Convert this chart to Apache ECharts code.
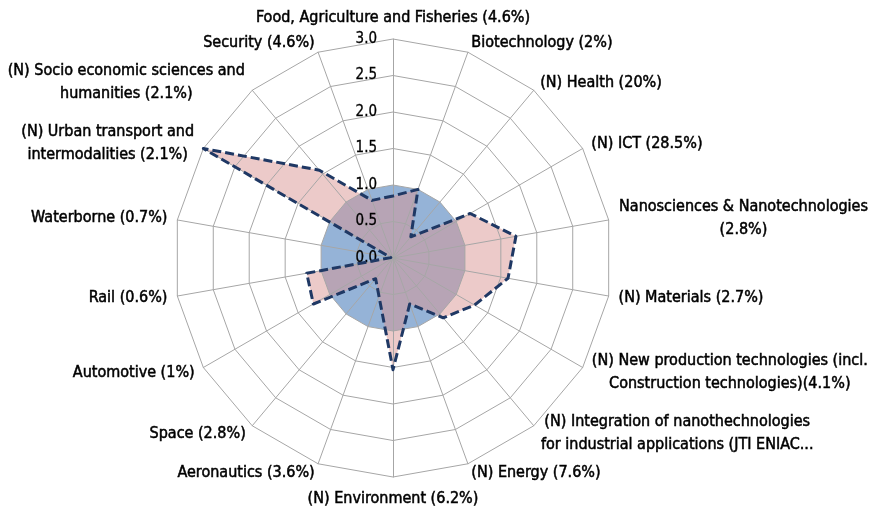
<!DOCTYPE html>
<html>
<head>
<meta charset="utf-8">
<script src="https://cdn.jsdelivr.net/npm/echarts@6/dist/echarts.min.js"></script>
<style>
html,body{margin:0;padding:0;background:#fff;}
#chart{width:873px;height:511px;}
</style>
</head>
<body>
<div id="chart"></div>
<script>
// axis names, clockwise from the top
var categories = [
  'Food, Agriculture and Fisheries (4.6%)',
  'Biotechnology (2%)',
  '(N) Health (20%)',
  '(N) ICT (28.5%)',
  'Nanosciences & Nanotechnologies\n(2.8%)',
  '(N) Materials (2.7%)',
  '(N) New production technologies (incl.\nConstruction technologies)(4.1%)',
  '(N) Integration of nanothechnologies\nfor industrial applications (JTI ENIAC...',
  '(N) Energy (7.6%)',
  '(N) Environment (6.2%)',
  'Aeronautics (3.6%)',
  'Space (2.8%)',
  'Automotive (1%)',
  'Rail (0.6%)',
  'Waterborne (0.7%)',
  '(N) Urban transport and\nintermodalities (2.1%)',
  '(N) Socio economic sciences and\nhumanities (2.1%)',
  'Security (4.6%)'
];
// blue reference level
var reference = [1, 1, 1, 1, 1, 1, 1, 1, 1, 1, 1, 1, 1, 1, 1, 1, 1, 1];
// pink dashed series
var ratio = [0.85, 1.0, 0.38, 1.22, 1.71, 1.6, 1.29, 1.07, 0.67, 1.53, 0.56, 0.37, 1.26, 1.2, 0.03, 3.0, 1.57, 0.84];
var axisMax = 3;

var FONT = 'DejaVu Sans Condensed';
var FSIZE = 16;

// echarts radar runs counter-clockwise, so keep the first axis on top and reverse the rest
var order = [0];
for (var k = categories.length - 1; k > 0; k--) order.push(k);
function pick(arr) { return order.map(function (i) { return arr[i]; }); }

// centre the lines of the two-line names inside their block
var ctx = document.createElement('canvas').getContext('2d');
ctx.font = FSIZE + 'px "' + FONT + '"';
var rich = {};
categories.forEach(function (c, i) {
  var lines = c.split('\n');
  if (lines.length > 1) {
    var w = 0;
    lines.forEach(function (l) { w = Math.max(w, ctx.measureText(l).width); });
    rich['n' + i] = {
      width: Math.ceil(w) + 1, align: 'center', fontSize: FSIZE, fontFamily: FONT,
      color: '#000', lineHeight: 23, textBorderColor: '#000', textBorderWidth: 0.5
    };
  }
});

var indicator = pick(categories).map(function (c, i) {
  var ind = {name: c, min: 0, max: axisMax};
  if (i === 0) {
    ind.axisLabel = {
      show: true,
      color: '#000',
      fontSize: 15,
      fontFamily: FONT,
      textBorderColor: '#000',
      textBorderWidth: 0.3,
      margin: 16,
      formatter: function (v) { return v.toFixed(1); }
    };
  }
  return ind;
});

var chart = echarts.init(document.getElementById('chart'));
chart.setOption({
  animation: false,
  radar: {
    z: 2,
    center: [393, 258],
    radius: 219,
    startAngle: 90,
    splitNumber: 6,
    shape: 'polygon',
    nameGap: 10,
    indicator: indicator,
    axisName: {
      color: '#000',
      fontSize: FSIZE,
      fontFamily: FONT,
      lineHeight: 23,
      textBorderColor: '#000',
      textBorderWidth: 0.5,
      rich: rich,
      formatter: function (name) {
        var i = categories.indexOf(name);
        var lines = name.split('\n');
        if (lines.length === 1) return name;
        return lines.map(function (l) { return '{n' + i + '|' + l + '}'; }).join('\n');
      }
    },
    axisLabel: {show: false},
    axisTick: {show: false},
    axisLine: {lineStyle: {color: '#a6a6a6', width: 1}},
    splitLine: {lineStyle: {color: '#a6a6a6', width: 1}},
    splitArea: {show: false}
  },
  series: [
    // filled areas sit under the grid
    {
      type: 'radar',
      z: 1,
      symbol: 'none',
      silent: true,
      data: [
        {
          value: pick(reference),
          lineStyle: {width: 0, color: '#4f81bd'},
          areaStyle: {color: '#4f81bd', opacity: 0.6}
        },
        {
          value: pick(ratio),
          lineStyle: {width: 0, color: '#d99694'},
          areaStyle: {color: '#d99694', opacity: 0.5}
        }
      ]
    },
    // dashed outline on top
    {
      type: 'radar',
      z: 3,
      symbol: 'none',
      data: [
        {
          value: pick(ratio),
          lineStyle: {width: 3, color: '#1f3864', type: [9, 4]}
        }
      ]
    }
  ]
});
</script>
</body>
</html>
